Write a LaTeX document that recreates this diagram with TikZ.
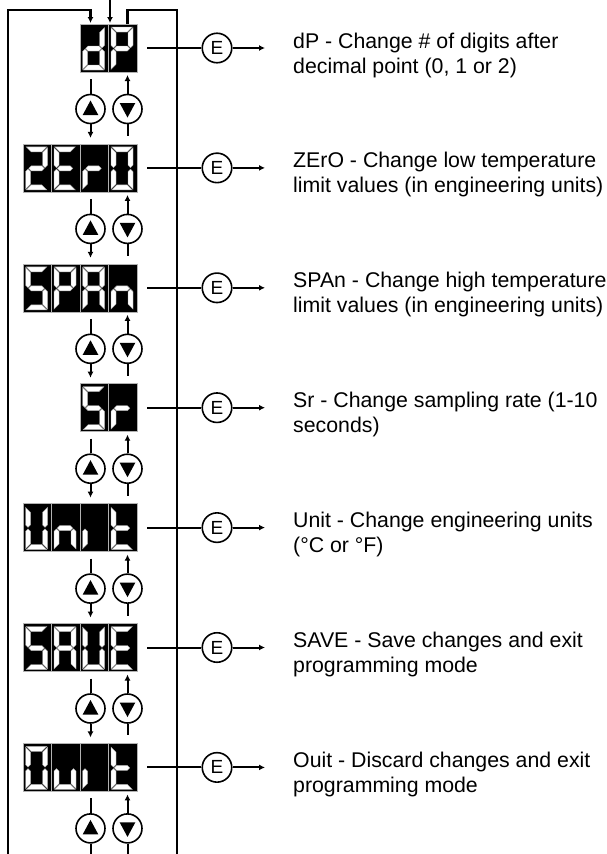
\documentclass[tikz,border=0pt]{standalone}
\usepackage{fontspec}
\setmainfont{Liberation Sans}
\usetikzlibrary{arrows.meta}

\newcommand{\sga}{\filldraw[segm] (3.2,3) -- (23.8,3) -- (18.8,8) -- (8.2,8) -- cycle;}
\newcommand{\sgd}{\filldraw[segm] (3.2,46) -- (23.8,46) -- (18.8,41) -- (8.2,41) -- cycle;}
\newcommand{\sgg}{\filldraw[segm] (5.7,24.5) -- (8.2,22) -- (18.8,22) -- (21.3,24.5) -- (18.8,27) -- (8.2,27) -- cycle;}
\newcommand{\sgf}{\filldraw[segm] (2.5,3.7) -- (7.5,8.7) -- (7.5,21.3) -- (5,23.8) -- (2.5,21.3) -- cycle;}
\newcommand{\sge}{\filldraw[segm] (2.5,45.3) -- (7.5,40.3) -- (7.5,27.7) -- (5,25.2) -- (2.5,27.7) -- cycle;}
\newcommand{\sgb}{\filldraw[segm] (24.5,3.7) -- (19.5,8.7) -- (19.5,21.3) -- (22,23.8) -- (24.5,21.3) -- cycle;}
\newcommand{\sgc}{\filldraw[segm] (24.5,45.3) -- (19.5,40.3) -- (19.5,27.7) -- (22,25.2) -- (24.5,27.7) -- cycle;}
\newcommand{\dcell}[3]{\begin{scope}[shift={(#1,#2)}]\filldraw[cellbox] (0,0) rectangle (28.5,48);\foreach \s in {#3}{\csname sg\s\endcsname}\end{scope}}

\begin{document}
\begin{tikzpicture}[x=1pt,y=-1pt,
  segm/.style={fill=white,draw=gray!70,line width=0.4pt},
  cellbox/.style={fill=black,draw=gray!60,line width=0.5pt},
  dispbox/.style={rectangle,inner sep=0pt,outer sep=0pt,minimum height=48pt},
  ln/.style={line width=2pt},
  frame/.style={line width=2.2pt},
  arr/.style={-{Latex[length=6pt,width=6pt]}},
  btn/.style={circle,draw,line width=1.6pt,minimum size=29pt,inner sep=0pt,fill=white},
  ebtn/.style={circle,draw,line width=1.6pt,minimum size=29.5pt,inner sep=0pt,font=\fontsize{19}{22}\selectfont},
  txt/.style={anchor=base west,inner sep=0pt,font=\fontsize{21.3}{25}\selectfont}]
\useasboundingbox (0,0) rectangle (607,854);

% displays
\node[dispbox,minimum width=57pt]  (d1) at (108.5,48) {};
\node[dispbox,minimum width=114pt] (d2) at (80,167.9) {};
\node[dispbox,minimum width=114pt] (d3) at (80,287.8) {};
\node[dispbox,minimum width=57pt]  (d4) at (108.5,407.7) {};
\node[dispbox,minimum width=114pt] (d5) at (80,527.6) {};
\node[dispbox,minimum width=114pt] (d6) at (80,647.5) {};
\node[dispbox,minimum width=114pt] (d7) at (80,767.4) {};

% dP
\dcell{80}{24}{b,c,d,e,g}
\dcell{108.5}{24}{a,b,e,f,g}
% ZErO
\dcell{23}{143.9}{a,b,g,e,d}
\dcell{51.5}{143.9}{a,f,g,e,d}
\dcell{80}{143.9}{e,g}
\dcell{108.5}{143.9}{a,b,c,d,e,f}
% SPAn
\dcell{23}{263.8}{a,f,g,c,d}
\dcell{51.5}{263.8}{a,b,e,f,g}
\dcell{80}{263.8}{a,b,c,e,f,g}
\dcell{108.5}{263.8}{c,e,g}
% Sr
\dcell{80}{383.7}{a,f,g,c,d}
\dcell{108.5}{383.7}{e,g}
% Unit
\dcell{23}{503.6}{b,c,d,e,f}
\dcell{51.5}{503.6}{c,e,g}
\dcell{80}{503.6}{e}
\dcell{108.5}{503.6}{d,e,f,g}
% SAVE
\dcell{23}{623.5}{a,f,g,c,d}
\dcell{51.5}{623.5}{a,b,c,e,f,g}
\dcell{80}{623.5}{b,c,d,e,f}
\dcell{108.5}{623.5}{a,f,g,e,d}
% Ouit
\dcell{23}{743.4}{a,b,c,d,e,f}
\dcell{51.5}{743.4}{c,d,e}
\dcell{80}{743.4}{e}
\dcell{108.5}{743.4}{d,e,f,g}

% frame coordinates
\coordinate (ftl) at (8,10);
\coordinate (ftr) at (177,10);
\coordinate (fbl) at (8,858);
\coordinate (fbr) at (177,858);
\coordinate (mt) at (110,-2);

% buttons, E keys, connectors
\foreach \k/\yy in {1/24,2/143.9,3/263.8,4/383.7,5/503.6,6/623.5,7/743.4} {
  \node[btn] (up\k) at (90.5,\yy+85) {};
  \node[btn] (dn\k) at (127.5,\yy+85) {};
  \fill ([yshift=8.5pt]up\k.center) -- ([xshift=-7.8pt,yshift=-6pt]up\k.center) -- ([xshift=7.8pt,yshift=-6pt]up\k.center) -- cycle;
  \fill ([yshift=-8.5pt]dn\k.center) -- ([xshift=-7.8pt,yshift=6pt]dn\k.center) -- ([xshift=7.8pt,yshift=6pt]dn\k.center) -- cycle;
  \draw[ln,shorten <=7pt] (up\k |- d\k.south) -- (up\k.north);
  \draw[ln,arr,shorten >=3pt] (dn\k.north) -- (dn\k |- d\k.south);
  \node[ebtn] (e\k) at (217,\yy+24) {E};
  \coordinate (a\k) at (265,\yy+24);
  \draw[ln,shorten <=10pt] (d\k.east) -- (e\k.west);
  \draw[ln,arr] (e\k.east) -- (a\k);
}
\foreach \k/\nx in {1/2,2/3,3/4,4/5,5/6,6/7} {
  \draw[ln,arr,shorten >=6pt] (up\k.south) -- (up\k |- d\nx.north);
  \draw[ln,shorten >=8pt] (dn\k.south) -- (dn\k |- d\nx.north);
}
\draw[ln] (up7.south) -- (up7 |- fbl);
\draw[ln] (dn7.south) -- (dn7 |- fbl);

% outer frame
\draw[frame,arr,shorten >=1pt] (fbl) -- (ftl) -- (ftl -| up1) -- (up1 |- d1.north);
\draw[frame,arr,shorten >=1pt] (mt) -- (mt |- d1.north);
\draw[frame] (dn1 |- d1.north) -- (dn1 |- ftl) -- (ftr) -- (fbr);

% texts
\node[txt] (t1a) at (293,48) {dP - Change \# of digits after};
\node[txt] (t1b) at (293,73) {decimal point (0, 1 or 2)};
\node[txt] (t2a) at (293,167.9) {ZErO - Change low temperature};
\node[txt] (t2b) at (293,192.9) {limit values (in engineering units)};
\node[txt] (t3a) at (293,287.8) {SPAn - Change high temperature};
\node[txt] (t3b) at (293,312.8) {limit values (in engineering units)};
\node[txt] (t4a) at (293,407.7) {Sr - Change sampling rate (1-10};
\node[txt] (t4b) at (293,432.7) {seconds)};
\node[txt] (t5a) at (293,527.6) {Unit - Change engineering units};
\node[txt] (t5b) at (293,552.6) {(°C or °F)};
\node[txt] (t6a) at (293,647.5) {SAVE - Save changes and exit};
\node[txt] (t6b) at (293,672.5) {programming mode};
\node[txt] (t7a) at (293,767.4) {Ouit - Discard changes and exit};
\node[txt] (t7b) at (293,792.4) {programming mode};
\end{tikzpicture}
\end{document}
